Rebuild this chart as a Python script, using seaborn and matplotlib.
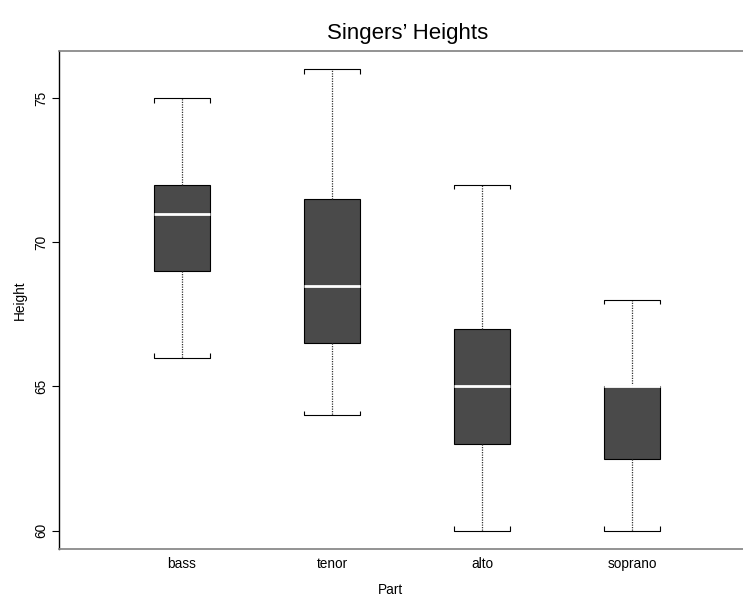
import numpy as np
import pandas as pd
import matplotlib
matplotlib.use("Agg")
import matplotlib.pyplot as plt
import seaborn as sns

# five-number summaries (min, Q1, median, Q3, max)
parts = ["bass", "tenor", "alto", "soprano"]
bass = [66, 69, 71, 72, 75]
tenor = [64, 66.5, 68.5, 71.5, 76]
alto = [60, 63, 65, 67, 72]
soprano = [60, 62.5, 65, 65, 68]
yticks = [60, 65, 70, 75]

df = pd.DataFrame({
    "Part": np.repeat(parts, 5),
    "Height": bass + tenor + alto + soprano,
})

sns.set_style("white")
plt.rcParams["font.family"] = ["Liberation Sans", "DejaVu Sans"]
plt.rcParams["text.color"] = "black"
plt.rcParams["axes.labelcolor"] = "black"
plt.rcParams["xtick.color"] = "black"
plt.rcParams["ytick.color"] = "black"

fig = plt.figure(figsize=(7.43, 5.97), dpi=100)
ax = fig.add_axes([59 / 743, 1 - 549 / 597, 1 - 59 / 743, (549 - 51) / 597])

bw = 0.367
sns.boxplot(data=df, x="Part", y="Height", order=parts, ax=ax,
            color="#4a4a4a", linecolor="black", linewidth=0.8, width=bw,
            saturation=1, whis=1.5, showfliers=False,
            boxprops=dict(facecolor="#4a4a4a", edgecolor="black", linewidth=0.8),
            medianprops=dict(color="white", linewidth=2),
            whiskerprops=dict(color="#333333", linestyle=(0, (1, 1)), linewidth=0.9),
            capprops=dict(color="black", linewidth=0.8),
            capwidths=bw)

# little end ticks on the caps, R style
tl = 0.15
for i, p in enumerate(parts):
    vals = df.loc[df["Part"] == p, "Height"]
    lo, hi = vals.min(), vals.max()
    for dx in (-bw / 2, bw / 2):
        ax.vlines(i + dx, hi - tl, hi, color="black", linewidth=0.8)
        ax.vlines(i + dx, lo, lo + tl, color="black", linewidth=0.8)

ax.set_xlim(-0.82, 3.74)
ax.set_ylim(59.36, 76.64)
ax.set_yticks(yticks)
ax.set_yticklabels([str(v) for v in yticks], rotation=90, va="center", fontsize=9.8)
ax.tick_params(axis="y", length=5, width=0.8, color="black", direction="out", left=True, pad=3)
ax.tick_params(axis="x", length=0, labelsize=9.8, pad=6)

for s in ["top", "bottom"]:
    ax.spines[s].set_color("#808080")
    ax.spines[s].set_linewidth(1.2)
ax.spines["left"].set_color("black")
ax.spines["left"].set_linewidth(1.0)
ax.spines["right"].set_visible(False)

ax.set_xlabel("")
ax.set_ylabel("")
fig.text(390 / 743, 1 - 590 / 597, "Part", fontsize=9.8, ha="center", va="center")
fig.text(20 / 743, 1 - 300 / 597, "Height", fontsize=9.8, ha="center", va="center",
         rotation=90)
fig.text(408 / 743, 1 - 33 / 597, "Singers\u2019 Heights", fontsize=16,
         ha="center", va="center")

fig.savefig("out.png", dpi=100)
